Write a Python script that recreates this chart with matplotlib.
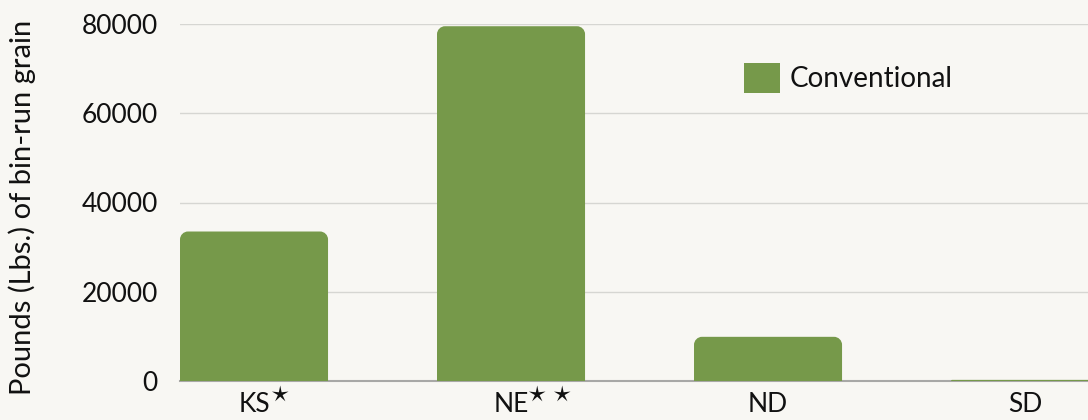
import matplotlib
matplotlib.use("Agg")
import matplotlib.pyplot as plt
from matplotlib.path import Path
from matplotlib.patches import PathPatch, Patch

categories = ["KS", "NE", "ND", "SD"]
category_stars = [1, 2, 0, 0]
conventional = [33500, 79500, 9900, 250]
y_ticks = [0, 20000, 40000, 60000, 80000]
series_name = "Conventional"

BG = "#f8f7f3"
GREEN = "#76994a"
TXT = "#111111"
plt.rcParams['font.family'] = ['Lato', 'DejaVu Sans']

W, H, DPI = 1088, 420, 100
fig = plt.figure(figsize=(W / DPI, H / DPI), dpi=DPI, facecolor=BG)
ax_l, ax_r, ax_t, ax_b = 180, 1088, 24, 381
ax = fig.add_axes([ax_l / W, 1 - ax_b / H, (ax_r - ax_l) / W, (ax_b - ax_t) / H])
ax.set_facecolor(BG)

x = list(range(len(categories)))
bw = 0.576
xmin, xmax = -0.288, 3.245
ax.set_xlim(xmin, xmax)
ax.set_ylim(0, 80000)

bars = ax.bar(x, conventional, width=bw, color=GREEN, label=series_name, zorder=3)

# rounded top corners
px_per_x = (ax_r - ax_l) / (xmax - xmin)
px_per_y = (ax_b - ax_t) / 80000
r_px = 8
for rect in bars:
    rect.set_visible(False)
    x0, y0 = rect.get_x(), rect.get_y()
    w, h = rect.get_width(), rect.get_height()
    rp = min(r_px, h * px_per_y)
    rx, ry = rp / px_per_x, rp / px_per_y
    k = 0.5523
    verts = [(x0, y0), (x0, y0 + h - ry),
             (x0, y0 + h - ry + k * ry), (x0 + rx - k * rx, y0 + h), (x0 + rx, y0 + h),
             (x0 + w - rx, y0 + h),
             (x0 + w - rx + k * rx, y0 + h), (x0 + w, y0 + h - ry + k * ry), (x0 + w, y0 + h - ry),
             (x0 + w, y0), (x0, y0)]
    codes = [Path.MOVETO, Path.LINETO,
             Path.CURVE4, Path.CURVE4, Path.CURVE4,
             Path.LINETO,
             Path.CURVE4, Path.CURVE4, Path.CURVE4,
             Path.LINETO, Path.CLOSEPOLY]
    ax.add_patch(PathPatch(Path(verts, codes), facecolor=GREEN, edgecolor='none', zorder=3, clip_on=False))

ax.set_yticks(y_ticks)
ax.set_yticklabels([str(v) for v in y_ticks], fontsize=19)
ax.set_xticks(x)
ax.set_xticklabels(categories, fontsize=19)
ax.tick_params(axis='both', length=0, colors=TXT)
ax.tick_params(axis='y', pad=16)
ax.tick_params(axis='x', pad=8)
ax.grid(axis='y', color='#d6d6d2', linewidth=1, zorder=0)
for s in ['top', 'right', 'left']:
    ax.spines[s].set_visible(False)
ax.spines['bottom'].set_color('#a8a8a6')
ax.spines['bottom'].set_linewidth(1.5)
ax.spines['bottom'].set_zorder(2)

# stars next to category labels
for xi, n in zip(x, category_stars):
    for j in range(n):
        ax.annotate("$\\star$", xy=(xi, 0), xycoords=('data', 'axes fraction'),
                    xytext=(26 + 25 * j, -12), textcoords='offset pixels',
                    ha='center', va='center', fontsize=19, math_fontfamily='cm',
                    color=TXT, annotation_clip=False)

fig.text(22 / W, 1 - 207 / H, "Pounds (Lbs.) of bin-run grain", rotation=90,
         ha='center', va='center', fontsize=21, color=TXT)

leg = ax.legend(handles=[Patch(facecolor=GREEN, label=series_name)], loc='upper left',
                bbox_to_anchor=((744 - ax_l) / (ax_r - ax_l), 1 - (63 - ax_t) / (ax_b - ax_t)),
                frameon=False, fontsize=20, handlelength=1.3, handleheight=1.3, handletextpad=0.36,
                borderaxespad=0, borderpad=0)
for t in leg.get_texts():
    t.set_color(TXT)

fig.savefig("out.png", dpi=DPI, facecolor=BG)
